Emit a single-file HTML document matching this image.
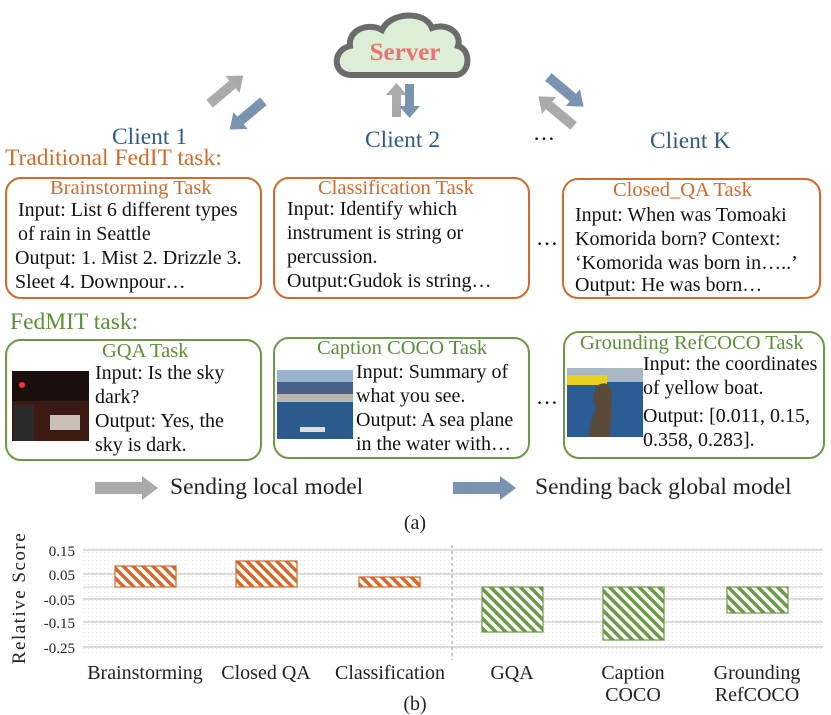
<!DOCTYPE html>
<html><head><meta charset="utf-8"><style>
body{margin:0;width:831px;height:715px;background:#fff;position:relative;overflow:hidden;font-family:"Liberation Serif",serif;}
.a{position:absolute;white-space:nowrap;}
.box{position:absolute;border:2px solid #d4692a;border-radius:16px;box-sizing:border-box;}
.g{border-color:#6a9a46;}
.t{font-size:20px;line-height:24px;color:#111;}
.ttl{font-size:20.5px;color:#d4692a;}
.gt{font-size:20.5px;color:#5b8f3a;}
.cl{font-size:23.5px;color:#2f5b86;}
</style></head><body>
<svg class="a" style="left:0;top:0" width="831" height="715">
<defs>
<pattern id="ho" width="7" height="7" patternUnits="userSpaceOnUse" patternTransform="rotate(-45)"><rect width="7" height="7" fill="#fff"/><rect width="3.5" height="7" fill="#d4692a"/></pattern>
<pattern id="hg" width="7" height="7" patternUnits="userSpaceOnUse" patternTransform="rotate(-45)"><rect width="7" height="7" fill="#fff"/><rect width="3.5" height="7" fill="#6a9a46"/></pattern>
<pattern id="dot" width="4" height="4" patternUnits="userSpaceOnUse"><rect width="4" height="4" fill="#fff"/><rect width="1" height="1" fill="#e4e4e4"/></pattern>
</defs>
<path d="M352,75 C332,75 332,50 350,46 C348,30 368,22 382,30 C390,12 425,10 432,28 C448,22 462,34 458,46 C472,50 470,75 455,75 Z" fill="#dcefd6" stroke="#6b6b6b" stroke-width="6"/>
<text x="405" y="60" font-family="Liberation Serif" font-weight="bold" font-size="25" fill="#f07070" text-anchor="middle">Server</text>
<g transform="translate(230,97) rotate(-40)"><rect x="-20" y="-13" width="30" height="10" fill="#aaa"/><polygon points="10,-19 24,-8 10,3" fill="#aaa"/></g>
<g transform="translate(243,108) rotate(140)"><rect x="-20" y="-13" width="30" height="10" fill="#7a93b0"/><polygon points="10,-19 24,-8 10,3" fill="#7a93b0"/></g>
<rect x="392" y="93" width="9" height="24" fill="#aaa"/><polygon points="386,95 396.5,83 407,95" fill="#aaa"/>
<rect x="405" y="84" width="9" height="24" fill="#7a93b0"/><polygon points="399,106 409.5,118 420,106" fill="#7a93b0"/>
<g transform="translate(562,95) rotate(40)"><rect x="-22" y="-10" width="32" height="10" fill="#7a93b0"/><polygon points="10,-16 24,-5 10,6" fill="#7a93b0"/></g>
<g transform="translate(560,108) rotate(220)"><rect x="-22" y="-10" width="32" height="10" fill="#aaa"/><polygon points="10,-16 24,-5 10,6" fill="#aaa"/></g>
<rect x="95" y="482" width="48" height="12" fill="#aaa"/><polygon points="142,476 158,488 142,500" fill="#aaa"/>
<rect x="453" y="482" width="48" height="12" fill="#7a93b0"/><polygon points="500,476 516,488 500,500" fill="#7a93b0"/>
<rect x="12" y="371" width="77" height="70" fill="#3a1a12"/><rect x="12" y="371" width="77" height="30" fill="#1a0f0c"/><rect x="50" y="415" width="30" height="15" fill="#c9c0b8"/><circle cx="22" cy="385" r="3" fill="#f33"/><rect x="14" y="405" width="20" height="36" fill="#2a2a2a"/>
<rect x="277" y="370" width="76" height="69" fill="#2d5a8c"/><rect x="277" y="370" width="76" height="12" fill="#9ab3cf"/><rect x="277" y="382" width="76" height="12" fill="#48608a"/><rect x="277" y="394" width="76" height="8" fill="#b8b8b0"/><rect x="300" y="427" width="25" height="5" fill="#ddd"/>
<rect x="567" y="368" width="76" height="69" fill="#2b5c95"/><rect x="567" y="368" width="76" height="14" fill="#a9b7c4"/><rect x="567" y="375" width="40" height="10" fill="#e8d020"/><path d="M598,385 q12,-6 14,10 l-2,42 h-22 q4,-20 8,-30 q-6,-10 2,-22z" fill="#5a4a3a"/>
<rect x="83" y="545" width="740" height="108" fill="url(#dot)"/>
<g stroke="#dcdcdc" stroke-width="2"><line x1="83" y1="550" x2="823" y2="550"/><line x1="83" y1="574" x2="823" y2="574"/><line x1="83" y1="599" x2="823" y2="599"/><line x1="83" y1="622" x2="823" y2="622"/><line x1="83" y1="647" x2="823" y2="647"/></g>
<line x1="83" y1="587" x2="823" y2="587" stroke="#ccc" stroke-width="1"/>
<line x1="452" y1="545" x2="452" y2="660" stroke="#999" stroke-dasharray="3,3"/>
<g stroke-width="1.2">
<rect x="115" y="566" width="61" height="21" fill="url(#ho)" stroke="#d4692a"/>
<rect x="236" y="561" width="61" height="26" fill="url(#ho)" stroke="#d4692a"/>
<rect x="359" y="577" width="61" height="10" fill="url(#ho)" stroke="#d4692a"/>
<rect x="482" y="587" width="61" height="45" fill="url(#hg)" stroke="#6a9a46"/>
<rect x="603" y="587" width="61" height="53" fill="url(#hg)" stroke="#6a9a46"/>
<rect x="727" y="587" width="61" height="26" fill="url(#hg)" stroke="#6a9a46"/>
</g>
<g font-family="Liberation Serif" font-size="15" fill="#222" text-anchor="end">
<text x="75" y="556">0.15</text><text x="75" y="580">0.05</text><text x="75" y="605">-0.05</text><text x="75" y="628">-0.15</text><text x="75" y="653">-0.25</text></g>
<text transform="translate(25,598) rotate(-90)" font-family="Liberation Serif" font-size="19" fill="#222" text-anchor="middle" letter-spacing="1.5">Relative Score</text>
<g font-family="Liberation Serif" font-size="20" fill="#222" text-anchor="middle">
<text x="145" y="679">Brainstorming</text><text x="266" y="679">Closed QA</text><text x="390" y="679">Classification</text><text x="512" y="679">GQA</text><text x="633" y="679">Caption</text><text x="633" y="701">COCO</text><text x="757" y="679">Grounding</text><text x="757" y="701">RefCOCO</text>
<text x="415" y="710">(b)</text><text x="415" y="529">(a)</text></g>
</svg>
<div class="a cl" style="left:112px;top:124px">Client 1</div>
<div class="a cl" style="left:365px;top:127px">Client 2</div>
<div class="a" style="left:533px;top:120px;font-size:22px">…</div>
<div class="a cl" style="left:650px;top:128px">Client K</div>
<div class="a" style="left:5px;top:145px;font-size:23.5px;color:#d4692a">Traditional FedIT task:</div>
<div class="a" style="left:10px;top:309px;font-size:23.5px;color:#5b8f3a">FedMIT task:</div>

<div class="box" style="left:5px;top:177px;width:257px;height:122px"></div>
<div class="a ttl" style="left:50px;top:177px">Brainstorming Task</div>
<div class="a t" style="left:18px;top:198px">Input: List 6 different types<br>of rain in Seattle</div>
<div class="a t" style="left:15px;top:246px">Output: 1. Mist 2. Drizzle 3.<br>Sleet 4. Downpour…</div>

<div class="box" style="left:273px;top:177px;width:257px;height:122px"></div>
<div class="a ttl" style="left:318px;top:177px">Classification Task</div>
<div class="a t" style="left:287px;top:197px">Input: Identify which<br>instrument is string or<br>percussion.<br>Output:Gudok is string…</div>

<div class="a" style="left:536px;top:225px;font-size:22px">…</div>
<div class="box" style="left:562px;top:178px;width:259px;height:121px"></div>
<div class="a ttl" style="left:613px;top:179px">Closed_QA Task</div>
<div class="a t" style="left:575px;top:203px">Input: When was Tomoaki<br>Komorida born? Context:<br>‘Komorida was born in…..’</div>
<div class="a t" style="left:575px;top:273px">Output: He was born…</div>

<div class="box g" style="left:5px;top:339px;width:257px;height:122px"></div>
<div class="a gt" style="left:102px;top:340px">GQA Task</div>
<div class="a t" style="left:95px;top:361px">Input: Is the sky<br>dark?<br>Output: Yes, the<br>sky is dark.</div>

<div class="box g" style="left:273px;top:337px;width:257px;height:122px"></div>
<div class="a gt" style="left:317px;top:337px">Caption COCO Task</div>
<div class="a t" style="left:356px;top:360px">Input: Summary of<br>what you see.<br>Output: A sea plane<br>in the water with…</div>

<div class="a" style="left:536px;top:384px;font-size:22px">…</div>
<div class="box g" style="left:563px;top:331px;width:262px;height:128px"></div>
<div class="a gt" style="left:580px;top:332px">Grounding RefCOCO Task</div>
<div class="a t" style="left:643px;top:352px">Input: the coordinates<br>of yellow boat.</div>
<div class="a t" style="left:643px;top:404px">Output: [0.011, 0.15,<br>0.358, 0.283].</div>

<div class="a" style="left:170px;top:474px;font-size:23.5px;color:#222">Sending local model</div>
<div class="a" style="left:535px;top:474px;font-size:23.5px;color:#222">Sending back global model</div>
</body></html>
